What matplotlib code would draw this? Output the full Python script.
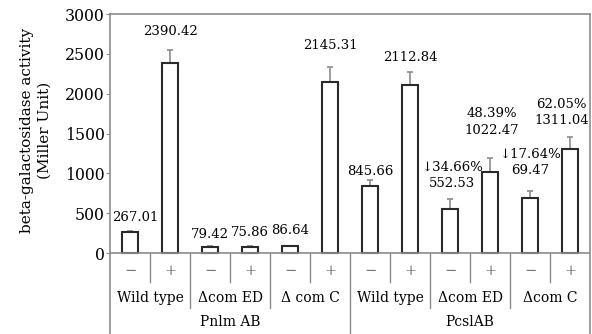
import matplotlib.pyplot as plt
import numpy as np

# bar values (Miller units) and upper error
values = [267.01, 2390.42, 79.42, 75.86, 86.64, 2145.31,
          845.66, 2112.84, 552.53, 1022.47, 694.70, 1311.04]
errors = [15, 155, 10, 10, 0, 190, 70, 160, 125, 170, 85, 145]
labels = ["267.01", "2390.42", "79.42", "75.86", "86.64", "2145.31",
          "845.66", "2112.84", "\u219334.66%\n552.53", "48.39%\n1022.47",
          "\u219317.64%\n69.47", "62.05%\n1311.04"]
# label placement (layout only)
label_y = [440, 2785, 238, 263, 289, 2610, 1029, 2459, 972, 1644, 1135, 1763]
label_dx = [0.12, 0, 0, 0, 0, 0, 0, 0, 0.05, 0.05, 0, -0.22]

signs = ["\u2212", "+"] * 6
strains = ["Wild type", "\u0394com ED", "\u0394 com C",
           "Wild type", "\u0394com ED", "\u0394com C"]
promoters = ["Pnlm AB", "PcslAB"]

plt.rcParams["font.family"] = ["DejaVu Serif"]
fs = 9.5
grey = "#8c8c8c"

fig = plt.figure(figsize=(5.92, 3.34), dpi=100)
ax = fig.add_axes([0.186, 0.0, 0.811, 0.958])

x = np.arange(len(values))
ax.bar(x, values, width=0.4, color="white", edgecolor="#2a2a2a", linewidth=1.5, zorder=3)
ax.errorbar(x, values, yerr=[np.zeros(len(errors)), errors], fmt="none",
            ecolor=grey, elinewidth=1.2, capsize=2.5, capthick=1.2, zorder=2)

for xi, dx, yi, lab in zip(x, label_dx, label_y, labels):
    ax.text(xi + dx, yi, lab, ha="center", va="center", fontsize=fs, linespacing=1.35)

ax.set_xlim(-0.5, len(values) - 0.5)
ax.set_ylim(-1016, 3000)
ax.set_yticks([0, 500, 1000, 1500, 2000, 2500, 3000])
ax.tick_params(axis="y", labelsize=fs + 1.8, length=3, color=grey, pad=1)
ax.set_xticks([])
for s in ax.spines.values():
    s.set_color(grey)
    s.set_linewidth(1.2)
ax.spines["bottom"].set_visible(False)

# baseline and category separators
ax.axhline(0, color=grey, lw=1.2, zorder=4)
for i in range(1, len(values)):
    if i == 6:
        bottom = -1016
    elif i % 2 == 0:
        bottom = -690
    else:
        bottom = -365
    ax.plot([i - 0.5, i - 0.5], [0, bottom], color=grey, lw=1.0, clip_on=False)

for xi, s in zip(x, signs):
    ax.text(xi, -225, s, ha="center", va="center", fontsize=fs + 1, color="#777777")
for k, s in enumerate(strains):
    ax.text(2 * k + 0.5, -565, s, ha="center", va="center", fontsize=fs + 0.5)
for k, p in enumerate(promoters):
    ax.text(6 * k + 2.5, -870, p, ha="center", va="center", fontsize=fs + 0.5)

fig.text(0.06, 0.61, "beta-galactosidase activity\n(Miller Unit)", rotation=90,
         ha="center", va="center", fontsize=fs + 1.5, linespacing=1.3)

fig.savefig("out.png", dpi=100)
